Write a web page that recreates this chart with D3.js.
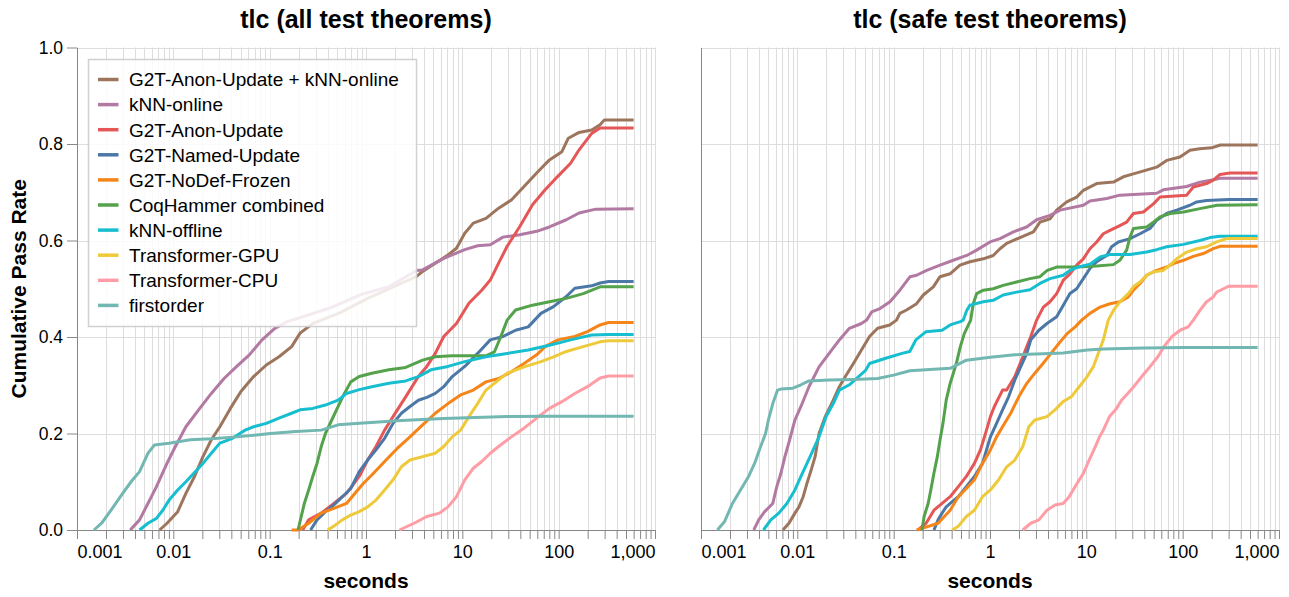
<!DOCTYPE html>
<html>
<head>
<meta charset="utf-8">
<script src="https://cdn.jsdelivr.net/npm/d3@7"></script>
<style>
  body { margin: 0; background: #fff; }
  svg text { font-family: "Liberation Sans", Arial, Helvetica, sans-serif; }
</style>
</head>
<body>
<svg width="1289" height="597"></svg>
<script>
/******************
*** DATA **********
*******************/
const seriesNames = [
    "G2T-Anon-Update + kNN-online", "kNN-online", "G2T-Anon-Update", "G2T-Named-Update",
    "G2T-NoDef-Frozen", "CoqHammer combined", "kNN-offline", "Transformer-GPU",
    "Transformer-CPU", "firstorder"
];
const seriesColors = [
    "#9d755d", "#b279a2", "#e45756", "#4c78a8", "#f58518",
    "#54a24b", "#17becf", "#eeca3b", "#ff9da6", "#72b7b2"
];
const panelTitles = ["tlc (all test theorems)", "tlc (safe test theorems)"];

const xTickValues = [0.001, 0.01, 0.1, 1, 10, 100, 1000];
const xTickLabels = ["0.001", "0.01", "0.1", "1", "10", "100", "1,000"];
const yTickValues = [0, 0.2, 0.4, 0.6, 0.8, 1.0];
const yTickLabels = ["0.0", "0.2", "0.4", "0.6", "0.8", "1.0"];

// [seconds, cumulative pass rate] -- all test theorems
const allAnonKnn = [[0.0072,0],[0.0086,0.014],[0.0111,0.038],[0.0135,0.076],[0.0166,0.111],[0.0203,0.152],[0.0248,0.187],[0.0304,0.214],[0.0391,0.252],[0.0503,0.287],[0.0681,0.318],[0.0923,0.342],[0.125,0.359],[0.169,0.380],[0.207,0.408],[0.280,0.428],[0.535,0.45],[1.04,0.48],[3.33,0.525],[3.87,0.536],[5.24,0.553],[7.10,0.570],[8.69,0.584],[10.6,0.615],[13.0,0.636],[17.6,0.646],[23.8,0.667],[32.3,0.684],[43.7,0.712],[59.1,0.740],[80.2,0.767],[108,0.784],[126,0.812],[163,0.824],[220,0.829],[269,0.840],[298,0.850],[600,0.850]];
const allKnnOnline = [[0.00357,0],[0.00446,0.021],[0.00545,0.055],[0.00668,0.090],[0.00859,0.138],[0.0105,0.173],[0.0135,0.214],[0.0183,0.249],[0.0248,0.283],[0.0336,0.314],[0.0455,0.339],[0.0615,0.363],[0.0834,0.394],[0.113,0.418],[0.153,0.432],[0.205,0.44],[0.42,0.46],[0.86,0.487],[1.76,0.505],[3.33,0.538],[3.87,0.539],[6.41,0.563],[10.6,0.581],[14.4,0.589],[19.5,0.591],[26.4,0.607],[39.5,0.612],[59.1,0.619],[80.2,0.628],[120,0.643],[163,0.657],[243,0.665],[600,0.666]];
const allAnonUpdate = [[0.22,0],[0.254,0.021],[0.343,0.035],[0.464,0.055],[0.628,0.076],[0.851,0.111],[1.04,0.145],[1.27,0.173],[1.56,0.207],[1.91,0.235],[2.58,0.276],[3.50,0.318],[4.28,0.339],[5.24,0.366],[6.41,0.401],[8.69,0.428],[11.7,0.470],[15.9,0.497],[19.5,0.518],[23.8,0.553],[29.2,0.588],[39.5,0.629],[53.5,0.674],[72.4,0.705],[98,0.733],[133,0.760],[163,0.788],[220,0.822],[269,0.833],[600,0.833]];
const allNamedUpdate = [[0.266,0],[0.310,0.021],[0.379,0.038],[0.464,0.052],[0.568,0.069],[0.695,0.086],[0.851,0.121],[1.04,0.145],[1.27,0.166],[1.56,0.190],[1.91,0.221],[2.33,0.242],[2.86,0.256],[3.50,0.269],[4.28,0.275],[5.24,0.283],[6.41,0.297],[7.85,0.318],[10.6,0.339],[14.4,0.366],[19.5,0.394],[26.4,0.401],[35.7,0.414],[48.3,0.421],[65.5,0.449],[88.5,0.463],[120,0.484],[147,0.501],[220,0.506],[269,0.512],[330,0.515],[600,0.515]];
const allNoDefFrozen = [[0.169,0],[0.197,0],[0.254,0.014],[0.343,0.035],[0.464,0.045],[0.628,0.055],[0.769,0.076],[0.942,0.097],[1.15,0.114],[1.56,0.142],[2.11,0.169],[2.86,0.193],[3.87,0.218],[5.24,0.242],[7.10,0.262],[9.60,0.280],[13.0,0.290],[17.6,0.307],[23.8,0.314],[32.3,0.328],[43.7,0.345],[59.1,0.363],[72.4,0.380],[98,0.394],[147,0.401],[199,0.411],[269,0.425],[330,0.430],[600,0.430]];
const allCoqHammer = [[0.197,0],[0.211,0.025],[0.229,0.055],[0.254,0.083],[0.280,0.111],[0.310,0.138],[0.343,0.173],[0.379,0.200],[0.441,0.228],[0.514,0.256],[0.597,0.283],[0.695,0.307],[0.851,0.318],[1.15,0.325],[1.73,0.332],[2.58,0.337],[3.87,0.352],[5.24,0.359],[7.85,0.361],[17.6,0.361],[21.5,0.369],[25.1,0.401],[29.2,0.435],[35.7,0.456],[53.5,0.466],[80.2,0.473],[120,0.480],[180,0.490],[269,0.504],[600,0.504]];
const allKnnOffline = [[0.00446,0],[0.00545,0.014],[0.00668,0.024],[0.00777,0.041],[0.00904,0.062],[0.0111,0.083],[0.0135,0.100],[0.0166,0.119],[0.0203,0.138],[0.0248,0.159],[0.0304,0.180],[0.0411,0.190],[0.0557,0.207],[0.0681,0.214],[0.0923,0.221],[0.125,0.232],[0.169,0.242],[0.207,0.249],[0.280,0.252],[0.379,0.259],[0.514,0.269],[0.628,0.283],[0.851,0.291],[1.15,0.297],[1.73,0.304],[2.58,0.309],[3.50,0.318],[4.73,0.332],[7.10,0.339],[10.6,0.349],[17.6,0.359],[29.2,0.366],[48.3,0.373],[80.2,0.383],[133,0.394],[220,0.404],[330,0.405],[600,0.405]];
const allTransformerGpu = [[0.399,0],[0.464,0.008],[0.568,0.021],[0.695,0.031],[0.851,0.038],[1.04,0.048],[1.27,0.062],[1.56,0.083],[1.91,0.104],[2.33,0.131],[2.86,0.145],[3.87,0.152],[5.24,0.159],[6.41,0.173],[7.85,0.193],[9.60,0.207],[11.7,0.235],[14.4,0.262],[17.6,0.290],[21.5,0.304],[29.2,0.325],[43.7,0.338],[65.5,0.349],[88.5,0.359],[120,0.370],[180,0.380],[269,0.390],[330,0.392],[600,0.392]];
const allTransformerCpu = [[2.22,0],[3.16,0.014],[4.28,0.028],[5.79,0.035],[7.10,0.048],[8.69,0.069],[10.6,0.104],[13.0,0.128],[15.9,0.142],[19.5,0.159],[23.8,0.173],[32.3,0.193],[43.7,0.211],[59.1,0.232],[80.2,0.252],[108,0.266],[147,0.283],[199,0.297],[269,0.315],[330,0.319],[600,0.319]];
const allFirstorder = [[0.0015,0],[0.0018,0.014],[0.0022,0.038],[0.00298,0.076],[0.00364,0.100],[0.00446,0.121],[0.00545,0.159],[0.00635,0.176],[0.00904,0.180],[0.0150,0.187],[0.0248,0.189],[0.0455,0.193],[0.102,0.200],[0.187,0.204],[0.343,0.207],[0.514,0.218],[0.942,0.222],[2.33,0.227],[6.41,0.231],[29.2,0.235],[80.2,0.236],[600,0.236]];

// [seconds, cumulative pass rate] -- safe test theorems
const safeAnonKnn = [[0.00708,0],[0.00818,0.014],[0.00944,0.035],[0.0104,0.048],[0.0115,0.069],[0.0126,0.097],[0.0139,0.124],[0.0153,0.152],[0.0168,0.200],[0.0195,0.235],[0.0236,0.269],[0.0273,0.297],[0.0315,0.318],[0.0382,0.345],[0.0463,0.373],[0.0562,0.401],[0.0681,0.418],[0.0910,0.425],[0.107,0.435],[0.116,0.449],[0.136,0.456],[0.173,0.469],[0.203,0.487],[0.258,0.504],[0.303,0.525],[0.385,0.531],[0.488,0.549],[0.620,0.556],[0.853,0.562],[1.08,0.569],[1.27,0.583],[1.49,0.594],[2.05,0.606],[2.82,0.618],[3.30,0.638],[4.20,0.645],[4.92,0.663],[6.25,0.680],[7.94,0.690],[9.31,0.704],[12.8,0.718],[19.1,0.721],[24.2,0.732],[30.8,0.738],[53.7,0.752],[68.2,0.766],[93.8,0.773],[119,0.787],[150,0.790],[200,0.792],[246,0.798],[600,0.798]];
const safeKnnOnline = [[0.00353,0],[0.00397,0.021],[0.00458,0.038],[0.00556,0.055],[0.00612,0.090],[0.00674,0.117],[0.00743,0.152],[0.00833,0.187],[0.00944,0.228],[0.0109,0.256],[0.0132,0.297],[0.0168,0.338],[0.0214,0.366],[0.0273,0.394],[0.0347,0.418],[0.0463,0.428],[0.0524,0.435],[0.0591,0.452],[0.0721,0.459],[0.0916,0.473],[0.116,0.497],[0.148,0.525],[0.173,0.528],[0.220,0.538],[0.303,0.549],[0.416,0.559],[0.573,0.569],[0.727,0.580],[1.0,0.597],[1.27,0.604],[1.75,0.618],[2.40,0.628],[3.05,0.643],[4.20,0.652],[5.33,0.663],[9.31,0.673],[10.9,0.682],[16.3,0.687],[22.3,0.694],[53.7,0.698],[63.0,0.705],[110,0.712],[151,0.721],[208,0.726],[244,0.729],[600,0.729]];
const safeAnonUpdate = [[0.179,0],[0.217,0.014],[0.262,0.041],[0.318,0.055],[0.386,0.069],[0.469,0.090],[0.568,0.111],[0.689,0.138],[0.796,0.166],[0.920,0.207],[1.01,0.235],[1.11,0.256],[1.35,0.290],[1.49,0.290],[1.81,0.318],[2.19,0.359],[2.65,0.401],[3.05,0.435],[3.58,0.462],[4.20,0.473],[4.92,0.490],[5.77,0.518],[6.76,0.531],[7.94,0.549],[9.31,0.562],[10.9,0.583],[12.8,0.597],[15.0,0.614],[17.6,0.621],[22.3,0.631],[26.2,0.638],[30.8,0.656],[39.1,0.659],[49.7,0.676],[58.2,0.690],[110,0.694],[129,0.711],[177,0.718],[208,0.725],[244,0.737],[310,0.740],[600,0.740]];
const safeNamedUpdate = [[0.262,0],[0.289,0.021],[0.318,0.035],[0.351,0.048],[0.386,0.055],[0.469,0.069],[0.568,0.090],[0.689,0.111],[0.836,0.138],[0.920,0.166],[1.01,0.193],[1.17,0.221],[1.35,0.249],[1.56,0.276],[1.81,0.311],[2.08,0.338],[2.41,0.366],[2.65,0.394],[3.22,0.414],[3.90,0.428],[4.92,0.442],[5.77,0.466],[6.76,0.490],[7.94,0.500],[9.31,0.521],[10.9,0.542],[12.8,0.556],[16.3,0.569],[18.3,0.587],[21.5,0.597],[28.4,0.604],[36.1,0.614],[45.8,0.625],[53.7,0.642],[68.2,0.656],[86.7,0.663],[119,0.673],[140,0.680],[177,0.683],[300,0.685],[600,0.685]];
const safeNoDefFrozen = [[0.173,0],[0.217,0.006],[0.289,0.014],[0.386,0.041],[0.469,0.069],[0.568,0.086],[0.689,0.104],[0.836,0.138],[1.01,0.166],[1.17,0.193],[1.35,0.214],[1.64,0.242],[1.99,0.276],[2.41,0.304],[2.92,0.325],[3.55,0.345],[4.30,0.366],[5.21,0.387],[6.32,0.407],[7.66,0.421],[8.95,0.435],[10.9,0.449],[13.9,0.462],[17.6,0.469],[22.3,0.473],[27.3,0.483],[30.8,0.497],[36.1,0.511],[42.3,0.528],[53.7,0.538],[68.2,0.545],[80.0,0.552],[102,0.559],[129,0.567],[164,0.573],[208,0.583],[244,0.588],[600,0.588]];
const safeCoqHammer = [[0.197,0],[0.207,0.028],[0.228,0.055],[0.243,0.083],[0.262,0.118],[0.284,0.152],[0.303,0.187],[0.325,0.221],[0.351,0.269],[0.386,0.304],[0.447,0.345],[0.492,0.380],[0.541,0.407],[0.63,0.435],[0.671,0.469],[0.727,0.490],[0.853,0.497],[1.08,0.500],[1.37,0.507],[1.89,0.514],[2.60,0.521],[3.30,0.525],[3.93,0.538],[4.92,0.545],[7.94,0.545],[12.8,0.547],[19.1,0.550],[22.3,0.559],[26.2,0.580],[28.4,0.607],[30.8,0.625],[42.3,0.628],[49.7,0.638],[58.2,0.649],[74.0,0.656],[102,0.659],[151,0.666],[228,0.673],[600,0.674]];
const safeKnnOffline = [[0.00445,0],[0.0053,0.021],[0.00643,0.035],[0.00779,0.055],[0.00944,0.083],[0.0109,0.111],[0.0126,0.138],[0.0146,0.166],[0.0168,0.193],[0.0199,0.235],[0.0236,0.262],[0.0273,0.290],[0.0347,0.301],[0.0511,0.331],[0.0562,0.345],[0.0826,0.356],[0.122,0.366],[0.147,0.370],[0.170,0.394],[0.217,0.411],[0.318,0.414],[0.386,0.425],[0.492,0.432],[0.528,0.435],[0.573,0.455],[0.620,0.466],[0.853,0.473],[1.08,0.476],[1.37,0.487],[1.89,0.493],[2.60,0.498],[3.30,0.511],[4.20,0.521],[5.77,0.528],[6.76,0.538],[7.94,0.544],[10.9,0.551],[13.9,0.566],[17.6,0.571],[28.4,0.571],[42.3,0.576],[53.7,0.581],[68.2,0.587],[102,0.592],[151,0.600],[192,0.606],[244,0.609],[600,0.609]];
const safeTransformerGpu = [[0.406,0],[0.469,0.008],[0.568,0.028],[0.689,0.041],[0.836,0.069],[1.01,0.083],[1.23,0.104],[1.49,0.131],[1.81,0.145],[2.19,0.173],[2.53,0.214],[2.92,0.228],[3.90,0.235],[4.73,0.249],[5.74,0.266],[6.97,0.276],[8.44,0.297],[10.2,0.318],[11.8,0.338],[13.7,0.373],[15.0,0.394],[16.9,0.435],[19.1,0.455],[22.3,0.473],[27.3,0.490],[30.8,0.504],[36.1,0.514],[42.3,0.528],[49.7,0.535],[63.0,0.538],[73.9,0.549],[86.7,0.562],[110,0.576],[140,0.583],[177,0.587],[225,0.597],[286,0.604],[600,0.604]];
const safeTransformerCpu = [[2.19,0],[2.65,0.014],[3.22,0.021],[3.90,0.041],[4.73,0.052],[5.74,0.055],[6.63,0.069],[7.66,0.090],[9.29,0.117],[10.7,0.145],[12.4,0.173],[13.7,0.193],[15.0,0.207],[17.4,0.235],[20.1,0.249],[23.2,0.269],[26.9,0.283],[31.0,0.297],[37.6,0.318],[45.6,0.338],[55.3,0.359],[63.8,0.380],[77.4,0.401],[94.0,0.414],[114,0.421],[129,0.435],[151,0.455],[177,0.473],[208,0.483],[225,0.493],[266,0.500],[298,0.505],[600,0.505]];
const safeFirstorder = [[0.00148,0],[0.00175,0.017],[0.00212,0.055],[0.00257,0.083],[0.00312,0.111],[0.0036,0.138],[0.00416,0.173],[0.00468,0.200],[0.00505,0.231],[0.00556,0.262],[0.00624,0.290],[0.00674,0.292],[0.009,0.294],[0.0109,0.301],[0.0132,0.309],[0.0214,0.311],[0.0382,0.312],[0.0681,0.314],[0.100,0.321],[0.147,0.330],[0.386,0.335],[0.568,0.352],[1.01,0.358],[1.81,0.363],[5.74,0.367],[10.2,0.373],[15.0,0.375],[39.5,0.377],[104,0.378],[600,0.378]];

const allSeries = [allAnonKnn, allKnnOnline, allAnonUpdate, allNamedUpdate, allNoDefFrozen,
                   allCoqHammer, allKnnOffline, allTransformerGpu, allTransformerCpu, allFirstorder];
const safeSeries = [safeAnonKnn, safeKnnOnline, safeAnonUpdate, safeNamedUpdate, safeNoDefFrozen,
                    safeCoqHammer, safeKnnOffline, safeTransformerGpu, safeTransformerCpu, safeFirstorder];

/******************
*** LAYOUT ********
*******************/
const svg = d3.select('svg');
const width = +svg.attr('width');
const height = +svg.attr('height');

const plotTop = 47.5;
const plotBottom = 530;
const plotWidth = 578;
const gridColor = '#dddddd';
const axisColor = '#888888';

const yScale = d3.scaleLinear().domain([0, 1]).range([plotBottom, plotTop]);

/******************
*** PANEL *********
*******************/
const makePanel = (selection, props) => {
    const { left, title, series, showYLabels, showLegend } = props;

    const xScale = d3.scaleLog()
        .domain([0.001, 1000])
        .range([0, plotWidth]);
    const allTicks = xScale.ticks();

    const g = selection.append('g')
        .attr('transform', `translate(${left},0)`);

    // grid
    g.append('g').selectAll('line.vgrid').data(allTicks)
        .enter().append('line')
        .attr('class', 'vgrid')
        .attr('x1', d => Math.round(xScale(d)) + 0.5)
        .attr('x2', d => Math.round(xScale(d)) + 0.5)
        .attr('y1', plotTop)
        .attr('y2', plotBottom)
        .attr('stroke', gridColor)
        .attr('stroke-width', 1);

    g.append('g').selectAll('line.hgrid').data(yTickValues)
        .enter().append('line')
        .attr('class', 'hgrid')
        .attr('x1', 0)
        .attr('x2', plotWidth)
        .attr('y1', d => Math.round(yScale(d)) + 0.5)
        .attr('y2', d => Math.round(yScale(d)) + 0.5)
        .attr('stroke', gridColor)
        .attr('stroke-width', 1);

    // X-axis
    const xAxis = d3.axisBottom(xScale)
        .tickValues(allTicks)
        .tickSize(9)
        .tickSizeOuter(0)
        .tickPadding(6)
        .tickFormat(d => {
            const i = xTickValues.findIndex(v => Math.abs(v - d) < d * 1e-6);
            return i >= 0 ? xTickLabels[i] : '';
        });
    const xAxisG = g.append('g')
        .attr('class', 'x-axis')
        .attr('transform', `translate(0,${plotBottom})`)
        .call(xAxis);
    xAxisG.selectAll('path, line').attr('stroke', axisColor);
    xAxisG.selectAll('text')
        .attr('font-size', 18)
        .attr('fill', '#000')
        .attr('text-anchor', d => d === 0.001 ? 'start' : (d === 1000 ? 'end' : 'middle'));

    // X-axis label
    g.append('text')
        .attr('x', plotWidth / 2)
        .attr('y', 588)
        .attr('text-anchor', 'middle')
        .attr('font-size', 21)
        .attr('font-weight', 'bold')
        .text('seconds');

    // Y-axis
    const yAxis = d3.axisLeft(yScale)
        .tickValues(showYLabels ? yTickValues : [])
        .tickSize(10)
        .tickSizeOuter(0)
        .tickPadding(4)
        .tickFormat((d, i) => yTickLabels[i]);
    const yAxisG = g.append('g')
        .attr('class', 'y-axis')
        .call(yAxis);
    yAxisG.selectAll('path, line').attr('stroke', axisColor);
    yAxisG.selectAll('text')
        .attr('font-size', 17.5)
        .attr('fill', '#000');

    if (showYLabels) {
        g.append('text')
            .attr('transform', `translate(${25.5 - left},${(plotTop + plotBottom) / 2}) rotate(-90)`)
            .attr('text-anchor', 'middle')
            .attr('font-size', 21)
            .attr('font-weight', 'bold')
            .text('Cumulative Pass Rate');
    }

    // title
    g.append('text')
        .attr('x', plotWidth / 2)
        .attr('y', 28)
        .attr('text-anchor', 'middle')
        .attr('font-size', 25)
        .attr('font-weight', 'bold')
        .text(title);

    // lines
    const line = d3.line()
        .x(d => xScale(d[0]))
        .y(d => yScale(d[1]));

    g.append('g').selectAll('path').data(series)
        .enter().append('path')
        .attr('d', line)
        .attr('fill', 'none')
        .attr('stroke', (d, i) => seriesColors[i])
        .attr('stroke-width', 3)
        .attr('stroke-linejoin', 'round')
        .attr('stroke-linecap', 'butt');

    // legend
    if (showLegend) {
        const lg = g.append('g')
            .attr('transform', `translate(${88 - left},59)`);
        lg.append('rect')
            .attr('x', 0.5)
            .attr('y', 0.5)
            .attr('width', 328)
            .attr('height', 267)
            .attr('fill', '#fff')
            .attr('fill-opacity', 0.85)
            .attr('stroke', '#d0d0d0')
            .attr('stroke-width', 1.5);
        const rows = lg.selectAll('g.row').data(seriesNames)
            .enter().append('g')
            .attr('class', 'row')
            .attr('transform', (d, i) => `translate(0,${20.5 + i * 25.1})`);
        rows.append('line')
            .attr('x1', 10)
            .attr('x2', 30.5)
            .attr('stroke', (d, i) => seriesColors[i])
            .attr('stroke-width', 3.5);
        rows.append('text')
            .attr('x', 41)
            .attr('y', 6.8)
            .attr('font-size', 19)
            .attr('fill', '#000')
            .text(d => d);
    }
};

svg.call(makePanel, { left: 77, title: panelTitles[0], series: allSeries, showYLabels: true, showLegend: true });
svg.call(makePanel, { left: 701, title: panelTitles[1], series: safeSeries, showYLabels: false, showLegend: false });
</script>
</body>
</html>
